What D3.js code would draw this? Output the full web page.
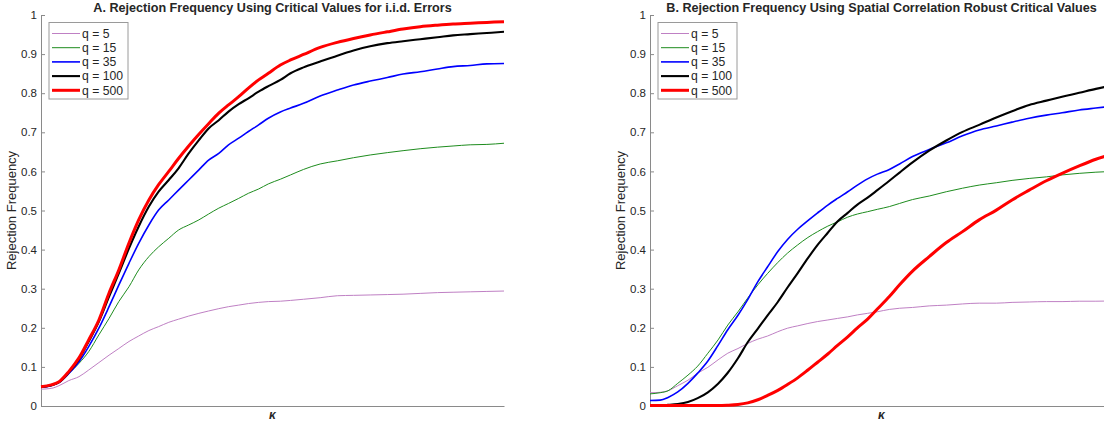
<!DOCTYPE html>
<html>
<head>
<meta charset="utf-8">
<script src="https://cdn.jsdelivr.net/npm/d3@7"></script>
<style>
  body { margin: 0; background: #fff; overflow: hidden; }
  svg { display: block; }
  text { font-family: "Liberation Sans", Arial, Helvetica, sans-serif; }
</style>
</head>
<body>
<svg id="chart" width="1104" height="425"></svg>
<script>
// ---------- data ----------
const kappa = [0, 2.2, 3.9, 6.0, 8.2, 10.3, 12.5, 14.7, 16.8, 19.0, 21.1, 23.3, 25.4, 27.6, 29.7,
  31.9, 34.1, 36.2, 38.4, 40.5, 42.7, 44.8, 47.0, 49.1, 51.7, 53.9, 56.7, 60.3, 64.0, 67.5,
  71.1, 74.8, 78.2, 81.9, 85.6, 89.0, 92.7, 96.3, 100];

const seriesNames = ["q = 5", "q = 15", "q = 35", "q = 100", "q = 500"];

// Panel A: critical values for i.i.d. errors
const A_q5 = [0.043, 0.045, 0.052, 0.065, 0.075, 0.092, 0.111, 0.130, 0.147, 0.165, 0.179, 0.193, 0.203, 0.214, 0.222,
  0.230, 0.237, 0.243, 0.249, 0.254, 0.258, 0.262, 0.265, 0.267, 0.268, 0.270, 0.273, 0.277, 0.282, 0.283,
  0.284, 0.285, 0.286, 0.288, 0.290, 0.291, 0.292, 0.293, 0.294];
const A_q15 = [0.048, 0.052, 0.060, 0.083, 0.109, 0.139, 0.182, 0.224, 0.267, 0.305, 0.348, 0.382, 0.407, 0.429, 0.450,
  0.463, 0.476, 0.491, 0.506, 0.518, 0.531, 0.544, 0.555, 0.568, 0.580, 0.591, 0.605, 0.619, 0.627, 0.635,
  0.642, 0.648, 0.653, 0.658, 0.662, 0.665, 0.668, 0.669, 0.672];
const A_q35 = [0.048, 0.052, 0.060, 0.083, 0.113, 0.152, 0.199, 0.254, 0.309, 0.365, 0.416, 0.463, 0.501, 0.527, 0.552,
  0.578, 0.604, 0.629, 0.646, 0.668, 0.685, 0.702, 0.719, 0.736, 0.752, 0.762, 0.774, 0.793, 0.808, 0.821,
  0.831, 0.840, 0.849, 0.855, 0.862, 0.868, 0.871, 0.875, 0.876];
const A_q100 = [0.049, 0.053, 0.061, 0.086, 0.120, 0.165, 0.216, 0.280, 0.339, 0.403, 0.459, 0.510, 0.548, 0.578, 0.608,
  0.646, 0.680, 0.710, 0.731, 0.753, 0.772, 0.787, 0.804, 0.818, 0.834, 0.851, 0.866, 0.881, 0.896, 0.909,
  0.920, 0.928, 0.933, 0.938, 0.943, 0.948, 0.951, 0.954, 0.957];
const A_q500 = [0.049, 0.054, 0.062, 0.088, 0.123, 0.169, 0.220, 0.289, 0.348, 0.417, 0.476, 0.527, 0.566, 0.600, 0.633,
  0.665, 0.695, 0.722, 0.749, 0.770, 0.791, 0.813, 0.834, 0.851, 0.872, 0.885, 0.899, 0.917, 0.930, 0.940,
  0.949, 0.957, 0.964, 0.970, 0.974, 0.977, 0.979, 0.981, 0.983];

// Panel B: spatial correlation robust critical values
const B_q5 = [0.034, 0.035, 0.039, 0.052, 0.066, 0.084, 0.099, 0.118, 0.135, 0.147, 0.160, 0.171, 0.179, 0.190, 0.199,
  0.205, 0.211, 0.216, 0.220, 0.224, 0.228, 0.233, 0.237, 0.241, 0.247, 0.250, 0.252, 0.256, 0.258, 0.261,
  0.263, 0.263, 0.265, 0.266, 0.267, 0.267, 0.268, 0.268, 0.269];
const B_q15 = [0.031, 0.034, 0.039, 0.058, 0.079, 0.102, 0.135, 0.169, 0.207, 0.241, 0.276, 0.310, 0.339, 0.367, 0.391,
  0.412, 0.431, 0.446, 0.460, 0.471, 0.483, 0.491, 0.497, 0.503, 0.510, 0.518, 0.528, 0.537, 0.548, 0.557,
  0.565, 0.571, 0.577, 0.582, 0.586, 0.591, 0.595, 0.598, 0.600];
const B_q35 = [0.014, 0.015, 0.022, 0.036, 0.058, 0.084, 0.115, 0.155, 0.195, 0.232, 0.272, 0.318, 0.356, 0.395, 0.426,
  0.452, 0.474, 0.494, 0.514, 0.531, 0.548, 0.565, 0.581, 0.593, 0.605, 0.619, 0.638, 0.656, 0.673, 0.691,
  0.706, 0.716, 0.726, 0.736, 0.744, 0.750, 0.757, 0.762, 0.767];
const B_q100 = [0.002, 0.002, 0.003, 0.005, 0.010, 0.020, 0.035, 0.057, 0.085, 0.122, 0.163, 0.198, 0.232, 0.266, 0.303,
  0.340, 0.378, 0.412, 0.443, 0.472, 0.494, 0.515, 0.533, 0.552, 0.576, 0.597, 0.623, 0.653, 0.679, 0.701,
  0.719, 0.738, 0.754, 0.770, 0.781, 0.791, 0.801, 0.811, 0.820];
const B_q500 = [0.001, 0.001, 0.001, 0.001, 0.001, 0.001, 0.001, 0.001, 0.002, 0.004, 0.008, 0.016, 0.027, 0.040, 0.055,
  0.072, 0.092, 0.112, 0.133, 0.155, 0.177, 0.200, 0.222, 0.248, 0.280, 0.310, 0.345, 0.382, 0.418, 0.446,
  0.476, 0.501, 0.527, 0.552, 0.576, 0.595, 0.614, 0.631, 0.645];

const yTickValues = [0, 0.1, 0.2, 0.3, 0.4, 0.5, 0.6, 0.7, 0.8, 0.9, 1];
const yTickLabels = ["0", "0.1", "0.2", "0.3", "0.4", "0.5", "0.6", "0.7", "0.8", "0.9", "1"];

const titleA = "A. Rejection Frequency Using Critical Values for i.i.d. Errors";
const titleB = "B. Rejection Frequency Using Spatial Correlation Robust Critical Values";
const yLabel = "Rejection Frequency";
const xLabel = "κ";

// ---------- styles ----------
const colors = ["#bf80c4", "#1e8c1e", "#0000ff", "#000000", "#ff0000"];
const widths = [1, 1, 1.6, 2.1, 3];

const panels = [
  { left: 41, title: titleA, data: [A_q5, A_q15, A_q35, A_q100, A_q500] },
  { left: 650, title: titleB, data: [B_q5, B_q15, B_q35, B_q100, B_q500] }
];

const svg = d3.select("#chart");
const plotTop = 15, plotBottom = 406, pw = 463;
const y = d3.scaleLinear().domain([0, 1]).range([plotBottom, plotTop]);

panels.forEach(p => {
  const x = d3.scaleLinear().domain([0, 100]).range([p.left, p.left + pw]);
  const g = svg.append("g");

  // y axis
  const ya = g.append("g").attr("transform", `translate(${p.left},0)`)
    .call(d3.axisLeft(y).tickValues(yTickValues)
      .tickFormat((d, i) => yTickLabels[i])
      .tickSizeInner(-4).tickSizeOuter(0).tickPadding(4));
  ya.select(".domain").attr("stroke", "#8a8a8a");
  ya.selectAll(".tick line").attr("stroke", "#8a8a8a");
  ya.selectAll(".tick text").attr("fill", "#262626")
    .style("font-size", "11.5px").style("font-family", "'Liberation Sans', Arial, sans-serif");

  // x axis (no ticks)
  const xa = g.append("g").attr("transform", `translate(0,${plotBottom})`)
    .call(d3.axisBottom(x).tickValues([]).tickSizeOuter(0));
  xa.select(".domain").attr("stroke", "#8a8a8a");

  // lines
  const line = d3.line().x((d, i) => x(kappa[i])).y(d => y(d)).curve(d3.curveMonotoneX);
  p.data.forEach((s, k) => {
    g.append("path").datum(s)
      .attr("fill", "none")
      .attr("stroke", colors[k])
      .attr("stroke-width", widths[k])
      .attr("stroke-linejoin", "round")
      .attr("d", line);
  });

  // title
  g.append("text").attr("x", p.left + pw / 2).attr("y", 11.5)
    .attr("text-anchor", "middle").attr("font-weight", "bold")
    .attr("fill", "#262626").style("font-size", "12.6px").text(p.title);

  // y label
  g.append("text")
    .attr("transform", `translate(${p.left - 25},${(plotTop + plotBottom) / 2}) rotate(-90)`)
    .attr("text-anchor", "middle").attr("fill", "#262626")
    .style("font-size", "13px").text(yLabel);

  // x label
  g.append("text").attr("x", p.left + pw / 2).attr("y", 419)
    .attr("text-anchor", "middle").attr("fill", "#262626")
    .attr("font-style", "italic").attr("font-weight", "bold")
    .style("font-size", "12px").text(xLabel);

  // legend
  const lx = p.left + 8, ly = 22.5, rowH = 14.2;
  const lg = g.append("g");
  lg.append("rect").attr("x", lx).attr("y", ly).attr("width", 79).attr("height", 76.5)
    .attr("fill", "#fff").attr("stroke", "#9a9a9a").attr("stroke-width", 1);
  seriesNames.forEach((name, k) => {
    const cy = ly + 11 + k * rowH;
    lg.append("line").attr("x1", lx + 3).attr("x2", lx + 31)
      .attr("y1", cy).attr("y2", cy)
      .attr("stroke", colors[k]).attr("stroke-width", widths[k]);
    lg.append("text").attr("x", lx + 33).attr("y", cy + 4.3)
      .attr("fill", "#262626").style("font-size", "12.2px").text(name);
  });
});
</script>
</body>
</html>
